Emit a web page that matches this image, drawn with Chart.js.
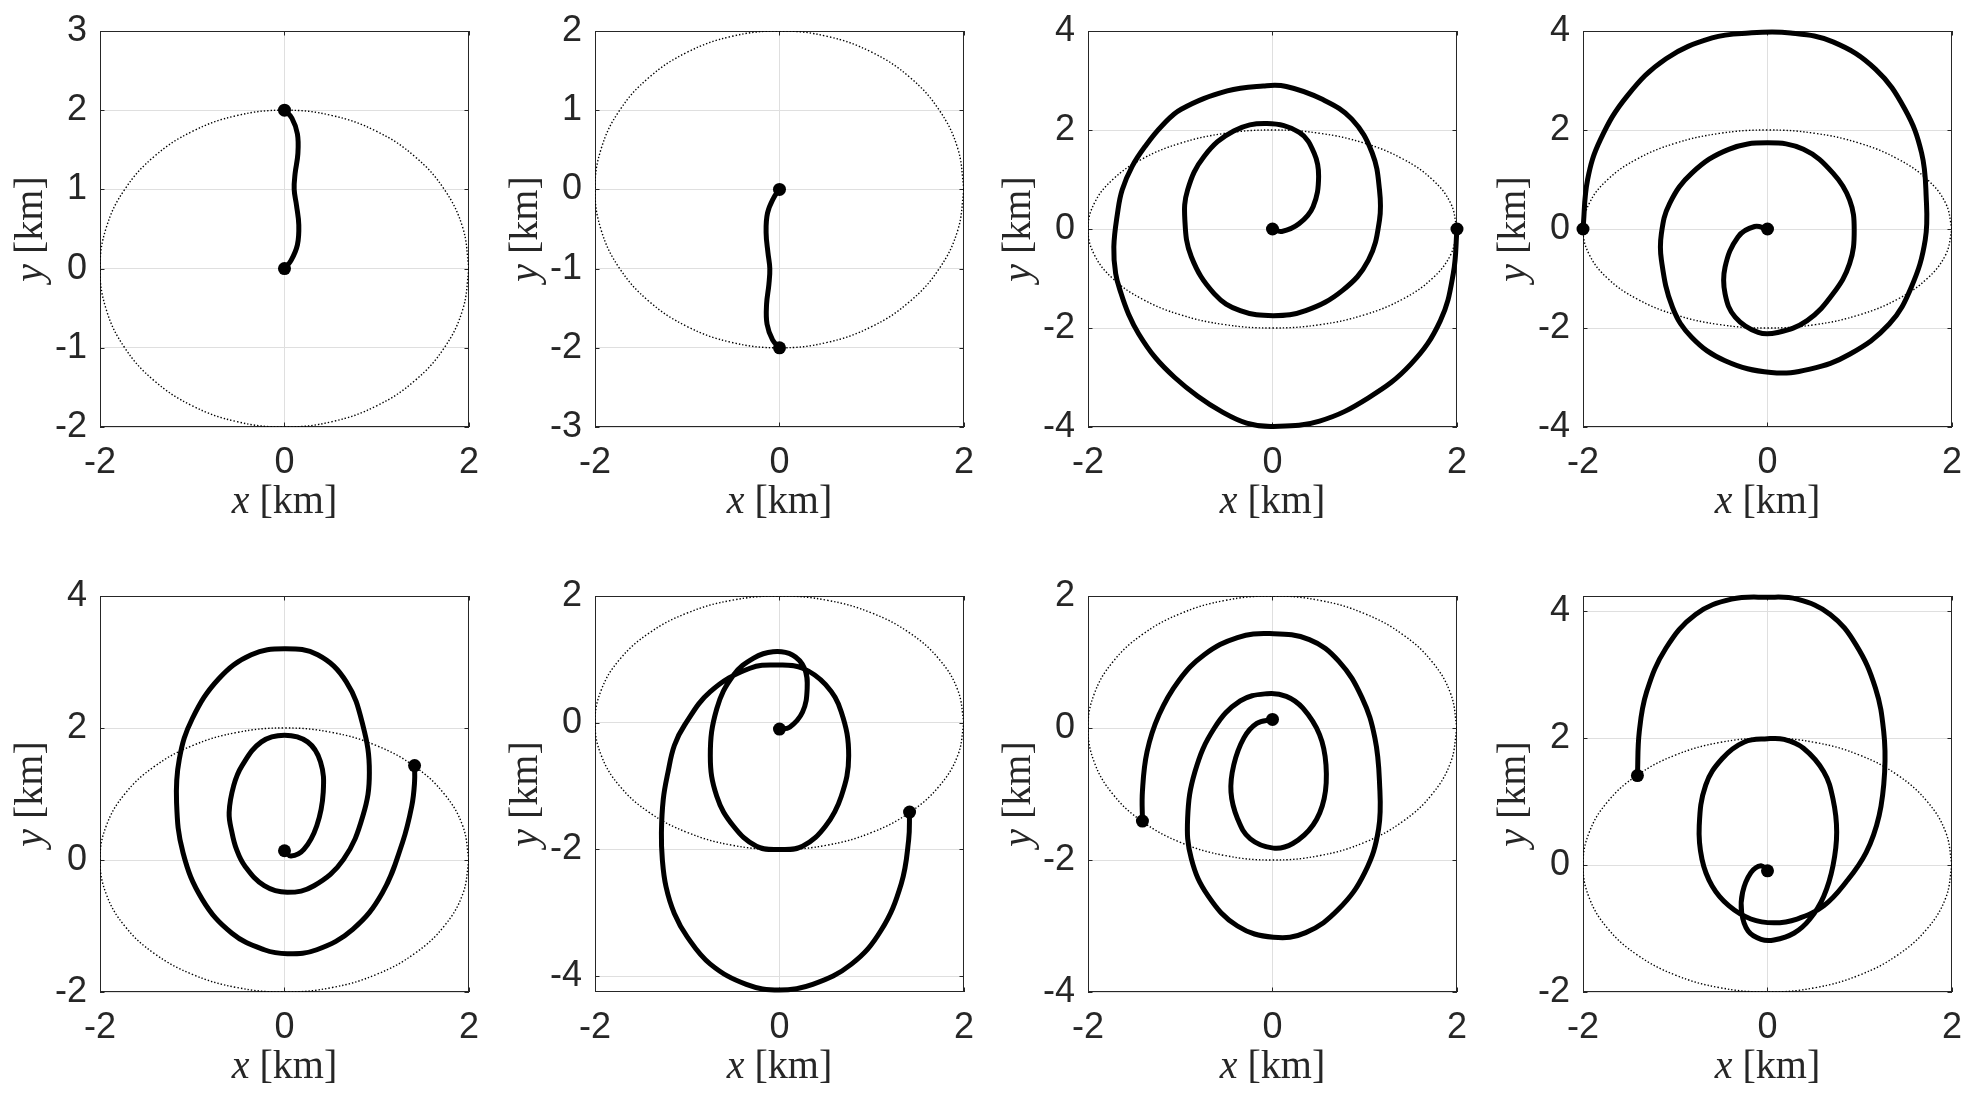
<!DOCTYPE html>
<html><head><meta charset="utf-8">
<script src="https://cdn.jsdelivr.net/npm/chart.js@4.4.1/dist/chart.umd.min.js"></script>
<style>
html,body{margin:0;padding:0;background:#fff;width:1981px;height:1093px;overflow:hidden;}
.panel{position:absolute;}
.panel canvas{display:block;}
</style></head><body>
<div id="wrap"></div>
<script>
// ---------- DATA ----------
const circleX = [2, 1.932, 1.732, 1.414, 1, 0.518, 0, -0.518, -1, -1.414, -1.732, -1.932, -2, -1.932, -1.732, -1.414, -1, -0.518, 0, 0.518, 1, 1.414, 1.732, 1.932, 2];
const circleY = [0, 0.518, 1, 1.414, 1.732, 1.932, 2, 1.932, 1.732, 1.414, 1, 0.518, 0, -0.518, -1, -1.414, -1.732, -1.932, -2, -1.932, -1.732, -1.414, -1, -0.518, 0];

const trackX1 = [0, 0.07, 0.14, 0.155, 0.13, 0.105, 0.115, 0.145, 0.14, 0.08, 0];
const trackY1 = [0, 0.1, 0.3, 0.55, 0.8, 1.0, 1.2, 1.45, 1.7, 1.9, 2.0];

const trackX2 = [0, -0.06, -0.13, -0.145, -0.125, -0.105, -0.115, -0.14, -0.135, -0.075, 0];
const trackY2 = [0, -0.1, -0.3, -0.55, -0.8, -1.0, -1.2, -1.45, -1.7, -1.9, -2.0];

const trackX3 = [0, 0.1, 0.29, 0.44, 0.5, 0.45, 0.29, -0.06, -0.42, -0.74, -0.92, -0.95, -0.88, -0.63, -0.35, 0.01, 0.36, 0.76, 1.04, 1.16, 1.16, 1.08, 0.86, 0.54, 0.15, -0.1, -0.49, -0.99, -1.2, -1.38, -1.52, -1.63, -1.68, -1.72, -1.7, -1.64, -1.56, -1.45, -1.27, -1.06, -0.81, -0.56, -0.28, 0.01, 0.51, 1.04, 1.5, 1.82, 1.96, 2.0];
const trackY3 = [0, -0.05, 0.11, 0.45, 1.06, 1.54, 1.95, 2.13, 1.98, 1.47, 0.79, 0.18, -0.56, -1.31, -1.65, -1.75, -1.65, -1.24, -0.63, 0.18, 0.79, 1.54, 2.22, 2.62, 2.88, 2.89, 2.79, 2.42, 2.08, 1.67, 1.27, 0.79, 0.32, -0.36, -0.9, -1.31, -1.72, -2.12, -2.6, -3.0, -3.38, -3.68, -3.92, -3.99, -3.88, -3.41, -2.73, -1.85, -0.9, 0];

const trackX4 = [0, -0.14, -0.32, -0.46, -0.46, -0.35, -0.1, 0.11, 0.43, 0.71, 0.89, 0.94, 0.89, 0.71, 0.39, 0, -0.42, -0.82, -1.06, -1.15, -1.15, -1.03, -0.82, -0.46, 0.04, 0.46, 0.89, 1.32, 1.56, 1.71, 1.72, 1.67, 1.49, 1.17, 0.71, 0.25, -0.2, -0.6, -1.1, -1.52, -1.81, -1.95, -2.0];
const trackY4 = [0, 0.05, -0.16, -0.77, -1.31, -1.78, -2.09, -2.09, -1.85, -1.31, -0.7, -0.02, 0.59, 1.13, 1.61, 1.74, 1.61, 1.13, 0.52, -0.09, -0.63, -1.58, -2.19, -2.66, -2.9, -2.83, -2.53, -1.92, -1.17, -0.22, 0.66, 1.54, 2.42, 3.23, 3.78, 3.96, 3.96, 3.86, 3.44, 2.69, 1.81, 1.0, 0];

const trackX5 = [0, 0.07, 0.21, 0.35, 0.42, 0.39, 0.25, 0, -0.25, -0.46, -0.55, -0.6, -0.57, -0.52, -0.43, -0.22, 0.03, 0.32, 0.64, 0.85, 0.92, 0.85, 0.67, 0.36, 0, -0.36, -0.71, -1.0, -1.14, -1.17, -1.1, -0.89, -0.57, -0.22, 0.03, 0.35, 0.74, 1.06, 1.28, 1.38, 1.41, 1.41];
const trackY5 = [0.14, 0.06, 0.16, 0.52, 1.03, 1.49, 1.79, 1.89, 1.79, 1.43, 1.13, 0.72, 0.42, 0.16, -0.09, -0.39, -0.49, -0.39, 0.01, 0.67, 1.33, 2.04, 2.7, 3.11, 3.2, 3.11, 2.75, 2.14, 1.53, 0.87, 0.11, -0.6, -1.11, -1.36, -1.42, -1.36, -1.05, -0.5, 0.27, 0.82, 1.18, 1.43];

const trackX6 = [0, 0.11, 0.25, 0.3, 0.27, 0.14, -0.07, -0.28, -0.5, -0.68, -0.75, -0.68, -0.5, -0.25, 0, 0.25, 0.5, 0.67, 0.75, 0.67, 0.5, 0.25, 0, -0.32, -0.75, -1.03, -1.14, -1.21, -1.26, -1.28, -1.27, -1.23, -1.14, -1.0, -0.75, -0.36, 0, 0.36, 0.78, 1.1, 1.32, 1.4, 1.41];
const trackY6 = [-0.1, -0.07, 0.17, 0.54, 0.86, 1.07, 1.12, 1.02, 0.75, 0.22, -0.52, -1.16, -1.63, -1.95, -2.0, -1.95, -1.63, -1.16, -0.52, 0.17, 0.6, 0.86, 0.91, 0.86, 0.49, -0.04, -0.36, -0.79, -1.21, -1.74, -2.16, -2.59, -3.01, -3.38, -3.81, -4.13, -4.22, -4.13, -3.81, -3.28, -2.54, -1.85, -1.41];

const trackX7 = [0, -0.17, -0.31, -0.42, -0.45, -0.38, -0.24, 0.01, 0.22, 0.44, 0.56, 0.58, 0.51, 0.33, 0.15, -0.06, -0.35, -0.63, -0.84, -0.92, -0.88, -0.7, -0.38, 0.01, 0.36, 0.72, 1.0, 1.15, 1.16, 1.11, 0.97, 0.72, 0.4, -0.03, -0.38, -0.74, -1.02, -1.23, -1.36, -1.41, -1.41];
const trackY7 = [0.13, 0.07, -0.15, -0.56, -0.97, -1.37, -1.68, -1.82, -1.75, -1.47, -1.07, -0.56, -0.1, 0.3, 0.48, 0.52, 0.41, 0.0, -0.66, -1.37, -1.98, -2.54, -3.0, -3.17, -3.1, -2.74, -2.19, -1.53, -0.82, -0.15, 0.46, 1.01, 1.34, 1.43, 1.37, 1.11, 0.71, 0.2, -0.36, -0.96, -1.41];

const trackX8 = [0, -0.07, -0.18, -0.27, -0.28, -0.21, -0.07, 0.07, 0.29, 0.46, 0.61, 0.71, 0.75, 0.71, 0.61, 0.39, 0.18, 0, -0.25, -0.49, -0.67, -0.74, -0.71, -0.6, -0.42, -0.18, 0.07, 0.32, 0.61, 0.85, 1.07, 1.21, 1.27, 1.26, 1.17, 0.96, 0.68, 0.32, 0, -0.39, -0.78, -1.1, -1.31, -1.39, -1.41];
const trackY8 = [-0.09, -0.01, -0.12, -0.43, -0.75, -1.04, -1.17, -1.18, -1.07, -0.85, -0.49, -0.01, 0.52, 1.04, 1.47, 1.84, 1.98, 1.99, 1.94, 1.68, 1.26, 0.62, 0.09, -0.33, -0.64, -0.85, -0.91, -0.85, -0.64, -0.27, 0.2, 0.78, 1.47, 2.1, 2.79, 3.47, 3.95, 4.19, 4.22, 4.19, 3.95, 3.42, 2.73, 2.1, 1.41];

const xTicks = [-2, 0, 2];
const xRange = [-2, 2];
const yTicks = [
  [-2, -1, 0, 1, 2, 3],
  [-3, -2, -1, 0, 1, 2],
  [-4, -2, 0, 2, 4],
  [-4, -2, 0, 2, 4],
  [-2, 0, 2, 4],
  [-4, -2, 0, 2],
  [-4, -2, 0, 2],
  [-2, 0, 2, 4]
];
const yRanges = [[-2, 3], [-3, 2], [-4, 4], [-4, 4], [-2, 4], [-4.25, 2], [-4, 2], [-2, 4.24]];
const tracksX = [trackX1, trackX2, trackX3, trackX4, trackX5, trackX6, trackX7, trackX8];
const tracksY = [trackY1, trackY2, trackY3, trackY4, trackY5, trackY6, trackY7, trackY8];
const xLabel = ['x', ' [km]'];
const yLabel = ['y', ' [km]'];

// ---------- LAYOUT ----------
const plotLeft = [100, 595, 1088, 1583, 100, 595, 1088, 1583];
const plotTop = [20, 20, 20, 20, 585, 585, 585, 585];
const PW = 375, PH = 407;
const AXW = 100, AXH = 110, PADT = 20, PADR = 22;
const INK = '#262626';
const TICK_FONT = {family: '"Liberation Sans", Arial, sans-serif', size: 36, lineHeight: 1};
const TITLE_SIZE = 40;
const SERIF = '"Liberation Serif", "DejaVu Serif", serif';

function zip(xs, ys) { return xs.map((v, i) => ({x: v, y: ys[i]})); }

function drawMixed(ctx, parts, cx, baseY) {
  const fonts = [`italic ${TITLE_SIZE}px ${SERIF}`, `${TITLE_SIZE}px ${SERIF}`];
  const widths = parts.map((p, i) => { ctx.font = fonts[i]; return ctx.measureText(p).width; });
  const total = widths.reduce((a, b) => a + b, 0);
  let x = cx - total / 2;
  ctx.textAlign = 'left';
  ctx.textBaseline = 'alphabetic';
  parts.forEach((p, i) => { ctx.font = fonts[i]; ctx.fillText(p, x, baseY); x += widths[i]; });
}

const framePlugin = {
  id: 'frame',
  beforeDatasetsDraw(chart) {
    const {ctx, chartArea: a} = chart;
    const xs = chart.scales.x, ys = chart.scales.y;
    ctx.save();
    ctx.strokeStyle = INK;
    ctx.lineWidth = 1;
    ctx.strokeRect(a.left + 0.5, a.top + 0.5, a.right - a.left - 1, a.bottom - a.top - 1);
    const L = 4.5;
    ctx.beginPath();
    xs.ticks.forEach(t => {
      const p = Math.round(xs.getPixelForValue(t.value)) + 0.5;
      ctx.moveTo(p, a.bottom); ctx.lineTo(p, a.bottom - L);
      ctx.moveTo(p, a.top); ctx.lineTo(p, a.top + L);
    });
    ys.ticks.forEach(t => {
      const p = Math.round(ys.getPixelForValue(t.value)) + 0.5;
      ctx.moveTo(a.left, p); ctx.lineTo(a.left + L, p);
      ctx.moveTo(a.right, p); ctx.lineTo(a.right - L, p);
    });
    ctx.stroke();
    ctx.fillStyle = INK;
    drawMixed(ctx, xLabel, (a.left + a.right) / 2, a.bottom + 86);
    ctx.translate(a.left - 58, (a.top + a.bottom) / 2);
    ctx.rotate(-Math.PI / 2);
    drawMixed(ctx, yLabel, 0, 0);
    ctx.restore();
  }
};

const wrap = document.getElementById('wrap');
for (let i = 0; i < 8; i++) {
  const div = document.createElement('div');
  div.className = 'panel';
  const W = AXW + PW + PADR, H = PADT + PH + AXH;
  div.style.left = (plotLeft[i] - AXW) + 'px';
  div.style.top = (plotTop[i] - PADT) + 'px';
  div.style.width = W + 'px';
  div.style.height = H + 'px';
  const cv = document.createElement('canvas');
  div.appendChild(cv);
  wrap.appendChild(div);

  const track = zip(tracksX[i], tracksY[i]);
  const circle = zip(circleX, circleY);
  const ends = [track[0], track[track.length - 1]];
  const yt = yTicks[i];

  new Chart(cv, {
    type: 'scatter',
    data: {
      datasets: [
        {data: ends, showLine: false, pointRadius: 6.5, pointBackgroundColor: '#000', pointBorderWidth: 0, pointHoverRadius: 6.5, clip: false},
        {data: track, showLine: true, borderColor: '#000', borderWidth: 5, pointRadius: 0, tension: 0.4,
         borderJoinStyle: 'round', borderCapStyle: 'round', fill: false, clip: 4},
        {data: circle, showLine: true, borderColor: '#000', borderWidth: 1.4, borderDash: [1.4, 2.0], pointRadius: 0, tension: 0.4, fill: false}
      ]
    },
    options: {
      responsive: true,
      maintainAspectRatio: false,
      animation: false,
      events: [],
      layout: {padding: {left: 0, top: PADT, right: PADR, bottom: 0}},
      plugins: {legend: {display: false}, tooltip: {enabled: false}},
      scales: {
        x: {
          type: 'linear', min: xRange[0], max: xRange[1],
          afterBuildTicks: s => { s.ticks = xTicks.map(v => ({value: v})); },
          afterFit: s => { s.height = AXH; },
          grid: {color: '#dfdfdf', lineWidth: 1, drawTicks: false},
          border: {display: false},
          ticks: {color: INK, font: TICK_FONT, padding: 18, maxRotation: 0, autoSkip: false}
        },
        y: {
          type: 'linear', min: yRanges[i][0], max: yRanges[i][1],
          afterBuildTicks: s => { s.ticks = yt.map(v => ({value: v})); },
          afterFit: s => { s.width = AXW; },
          grid: {color: '#dfdfdf', lineWidth: 1, drawTicks: false},
          border: {display: false},
          ticks: {color: INK, font: TICK_FONT, padding: 13, autoSkip: false}
        }
      }
    },
    plugins: [framePlugin]
  });
}
</script>
</body></html>
